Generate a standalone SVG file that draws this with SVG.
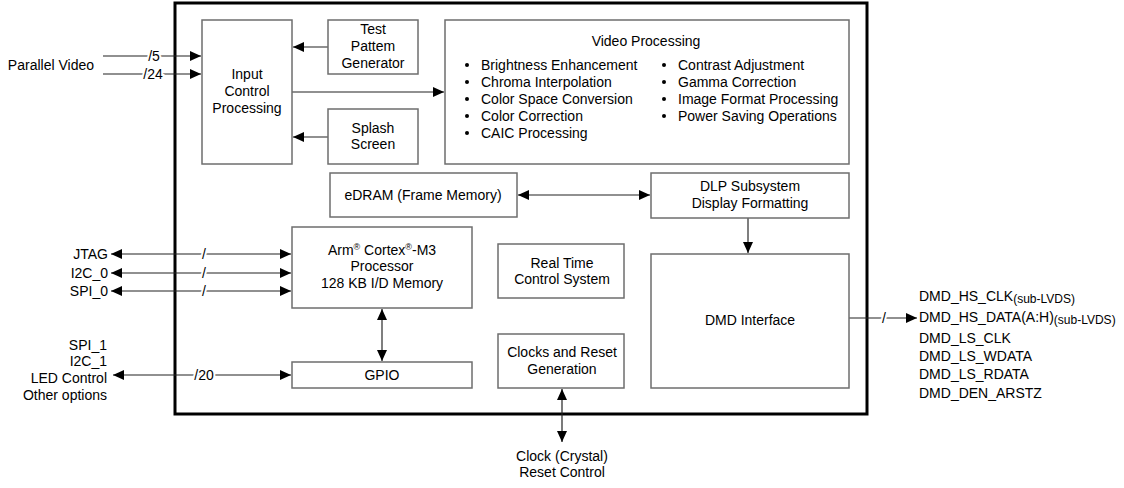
<svg xmlns="http://www.w3.org/2000/svg" width="1124" height="488" viewBox="0 0 1124 488">
<defs>
<marker id="ah" markerWidth="12" markerHeight="12" viewBox="0 0 12 12" refX="11" refY="6" orient="auto-start-reverse" markerUnits="userSpaceOnUse">
<path d="M0,1 L11,6 L0,11 Z" fill="#000"/>
</marker>
</defs>
<style>
text{font-family:"Liberation Sans",Arial,sans-serif;font-size:14px;fill:#000}
.box{fill:#fff;stroke:#6e6e6e;stroke-width:1.5}
.c{stroke:#222;stroke-width:1.2;fill:none}
.g{stroke:#555;stroke-width:1.5;fill:none}
.m{text-anchor:middle}
.r{text-anchor:end}
.lb{paint-order:stroke;stroke:#fff;stroke-width:4px}
.sub{font-size:12px}
</style>
<rect width="1124" height="488" fill="#fff"/>
<rect id="chip" x="175" y="3" width="692" height="411" fill="none" stroke="#000" stroke-width="3"/>

<g id="connectors">
<line class="c" x1="103" y1="56" x2="201" y2="56" marker-end="url(#ah)"/>
<line class="c" x1="103" y1="74" x2="201" y2="74" marker-end="url(#ah)"/>
<line class="c" x1="328" y1="47" x2="293" y2="47" marker-end="url(#ah)"/>
<line class="c" x1="328" y1="137" x2="293" y2="137" marker-end="url(#ah)"/>
<line class="c" x1="292" y1="92" x2="444" y2="92" marker-end="url(#ah)"/>
<line class="c" x1="518" y1="195" x2="650" y2="195" marker-start="url(#ah)" marker-end="url(#ah)"/>
<line class="g" x1="748" y1="218" x2="748" y2="253" marker-end="url(#ah)"/>
<line class="c" x1="111" y1="254" x2="291" y2="254" marker-start="url(#ah)" marker-end="url(#ah)"/>
<line class="c" x1="111" y1="273" x2="291" y2="273" marker-start="url(#ah)" marker-end="url(#ah)"/>
<line class="c" x1="111" y1="291" x2="291" y2="291" marker-start="url(#ah)" marker-end="url(#ah)"/>
<line class="c" x1="113" y1="375" x2="291" y2="375" marker-start="url(#ah)" marker-end="url(#ah)"/>
<line class="g" x1="382" y1="309" x2="382" y2="361" marker-start="url(#ah)" marker-end="url(#ah)"/>
<line class="c" x1="562" y1="389" x2="562" y2="442" marker-start="url(#ah)" marker-end="url(#ah)"/>
<line class="c" x1="849" y1="318" x2="917" y2="318" marker-end="url(#ah)"/>
<text class="m lb" x="154" y="61">/5</text>
<text class="m lb" x="153" y="79">/24</text>
<text class="m lb" x="204" y="259">/</text>
<text class="m lb" x="204" y="278">/</text>
<text class="m lb" x="204" y="296">/</text>
<text class="m lb" x="204" y="380">/20</text>
<text class="m lb" x="884" y="323">/</text>
</g>

<g id="input-control">
<rect class="box" x="202" y="20" width="90" height="144"/>
<text class="m" x="247" y="79">Input</text>
<text class="m" x="247" y="96">Control</text>
<text class="m" x="247" y="113">Processing</text>
</g>
<g id="test-pattern">
<rect class="box" x="328" y="20" width="90" height="54"/>
<text class="m" x="373" y="34">Test</text>
<text class="m" x="373" y="51">Pattem</text>
<text class="m" x="373" y="68">Generator</text>
</g>
<g id="splash">
<rect class="box" x="328" y="109" width="90" height="55"/>
<text class="m" x="373" y="133">Splash</text>
<text class="m" x="373" y="149">Screen</text>
</g>
<g id="video-processing">
<rect class="box" x="445" y="20" width="404" height="144"/>
<text class="m" x="646" y="46">Video Processing</text>
<g>
<circle cx="467" cy="65" r="2"/><circle cx="467" cy="82" r="2"/><circle cx="467" cy="99" r="2"/><circle cx="467" cy="116" r="2"/><circle cx="467" cy="133" r="2"/>
<circle cx="664" cy="65" r="2"/><circle cx="664" cy="82" r="2"/><circle cx="664" cy="99" r="2"/><circle cx="664" cy="116" r="2"/>
</g>
<text x="481" y="70">Brightness Enhancement</text>
<text x="481" y="87">Chroma Interpolation</text>
<text x="481" y="104">Color Space Conversion</text>
<text x="481" y="121">Color Correction</text>
<text x="481" y="138">CAIC Processing</text>
<text x="678" y="70">Contrast Adjustment</text>
<text x="678" y="87">Gamma Correction</text>
<text x="678" y="104">Image Format Processing</text>
<text x="678" y="121">Power Saving Operations</text>
</g>
<g id="edram">
<rect class="box" x="330" y="173" width="187" height="44"/>
<text class="m" x="423" y="200">eDRAM (Frame Memory)</text>
</g>
<g id="dlp-subsystem">
<rect class="box" x="651" y="173" width="198" height="45"/>
<text class="m" x="750" y="191">DLP Subsystem</text>
<text class="m" x="750" y="208">Display Formatting</text>
</g>
<g id="arm">
<rect class="box" x="292" y="227" width="180" height="81"/>
<text class="m" x="382" y="255">Arm<tspan font-size="9" dy="-5">®</tspan><tspan dy="5"> Cortex</tspan><tspan font-size="9" dy="-5">®</tspan><tspan dy="5">-M3</tspan></text>
<text class="m" x="382" y="271">Processor</text>
<text class="m" x="382" y="288">128 KB I/D Memory</text>
</g>
<g id="gpio">
<rect class="box" x="292" y="362" width="180" height="26"/>
<text class="m" x="382" y="380">GPIO</text>
</g>
<g id="rtcs">
<rect class="box" x="498" y="244" width="126" height="54"/>
<text class="m" x="562" y="268">Real Time</text>
<text class="m" x="562" y="284">Control System</text>
</g>
<g id="clocks">
<rect class="box" x="498" y="334" width="126" height="54"/>
<text class="m" x="562" y="357">Clocks and Reset</text>
<text class="m" x="562" y="374">Generation</text>
</g>
<g id="dmd-interface">
<rect class="box" x="651" y="254" width="198" height="134"/>
<text class="m" x="750" y="325">DMD Interface</text>
</g>

<g id="labels">
<text class="r" x="94" y="70">Parallel Video</text>
<text class="r" x="108" y="259">JTAG</text>
<text class="r" x="108" y="278">I2C_0</text>
<text class="r" x="108" y="296">SPI_0</text>
<text class="r" x="107" y="350">SPI_1</text>
<text class="r" x="107" y="366">I2C_1</text>
<text class="r" x="107" y="383">LED Control</text>
<text class="r" x="107" y="400">Other options</text>
<text class="m" x="562" y="461">Clock (Crystal)</text>
<text class="m" x="562" y="477">Reset Control</text>
<text x="919" y="301">DMD_HS_CLK<tspan class="sub" dy="2">(sub-LVDS)</tspan></text>
<text x="919" y="322">DMD_HS_DATA(A:H)<tspan class="sub" dy="2">(sub-LVDS)</tspan></text>
<text x="919" y="343">DMD_LS_CLK</text>
<text x="919" y="361">DMD_LS_WDATA</text>
<text x="919" y="379">DMD_LS_RDATA</text>
<text x="919" y="398">DMD_DEN_ARSTZ</text>
</g>
</svg>
